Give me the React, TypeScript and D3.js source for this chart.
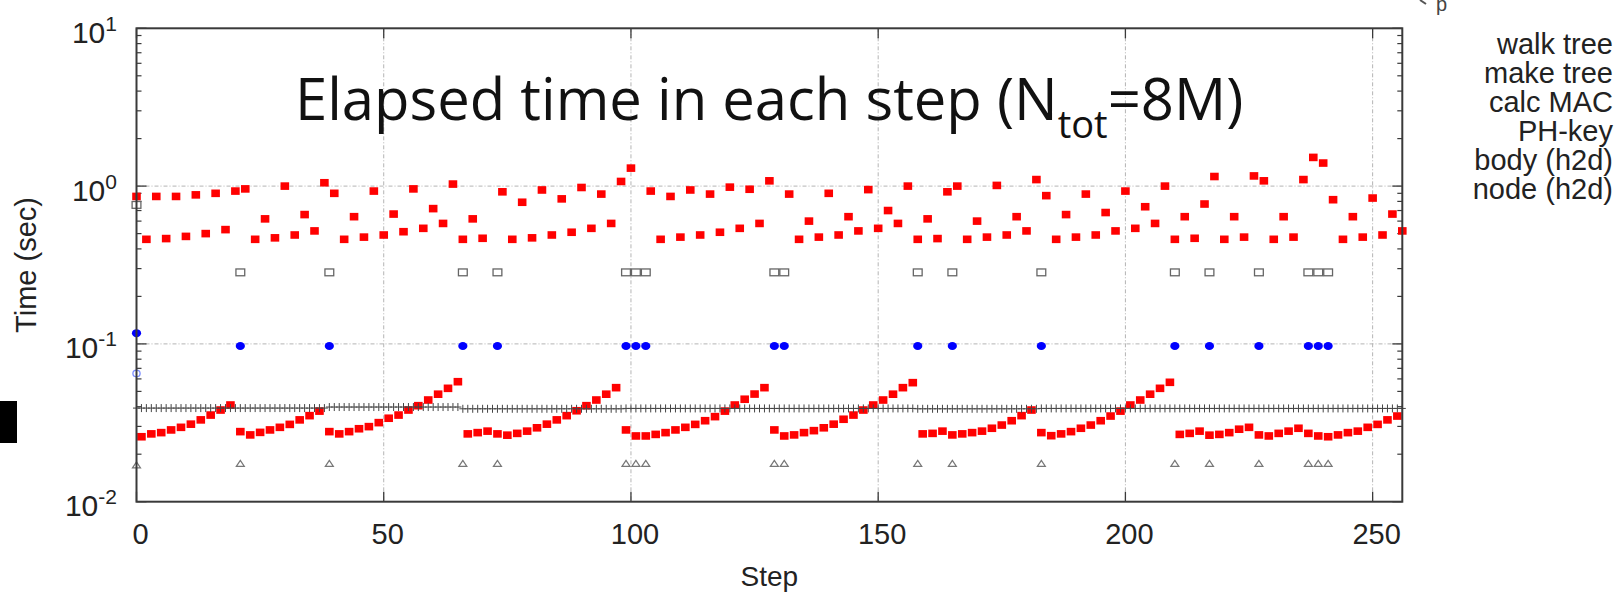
import React from 'react';
import * as d3 from 'd3';

const W = 1618;
const H = 592;

const xTicks = [0, 50, 100, 150, 200, 250];
const yTicks = [0.01, 0.1, 1, 10];
const yTickExp = ['-2', '-1', '0', '1'];
const legendLabels = ['walk tree', 'make tree', 'calc MAC', 'PH-key', 'body (h2d)', 'node (h2d)'];

// walk tree, even steps 0,2,...,256 (null = no point)
const walkTreeEven: (number | null)[] = [
  0.86, 0.46, 0.86, 0.465, 0.86, 0.48, 0.88, 0.5, 0.9, 0.53,
  0.93, 0.96, 0.46, 0.62, 0.47, 1.0, 0.49, 0.66, 0.52, 1.05,
  0.9, 0.46, 0.64, 0.475, 0.93, 0.49, 0.665, 0.514, 0.96, 0.54,
  0.72, 0.58, 1.03, 0.46, 0.62, 0.467, null, 0.92, 0.46, 0.79,
  0.47, 0.945, 0.49, 0.83, 0.51, 0.98, 0.54, 0.89, 0.58, 1.07,
  1.3, null, 0.93, 0.46, 0.86, 0.475, 0.945, 0.49, 0.89, 0.51,
  0.985, 0.54, 0.955, 0.58, 1.08, null, 0.89, 0.46, 0.6, 0.475,
  0.9, 0.49, 0.64, 0.52, 0.95, 0.54, 0.7, 0.58, 1.0, 0.46,
  0.62, 0.465, 0.92, 1.0, 0.46, 0.6, 0.475, 1.01, 0.49, 0.64,
  0.52, 1.1, 0.87, 0.46, 0.66, 0.475, 0.89, 0.49, 0.68, 0.52,
  0.93, 0.54, 0.74, 0.58, 1.0, 0.46, 0.64, 0.467, 0.77, 1.15,
  0.46, 0.64, 0.475, 1.16, 1.08, 0.46, 0.64, 0.475, 1.1, 1.52,
  1.4, 0.82, 0.46, 0.64, 0.475, 0.84, 0.49, 0.665, 0.52,
];

// walk tree, odd steps 1,3,...,255
const walkTreeOdd: number[] = [
  0.0258, 0.0269, 0.0274, 0.0285, 0.0296, 0.031, 0.033, 0.0354, 0.0381, 0.041,
  0.0278, 0.0265, 0.0275, 0.0285, 0.0296, 0.0309, 0.033, 0.0351, 0.0375, 0.0278,
  0.0269, 0.0278, 0.029, 0.0299, 0.0317, 0.0338, 0.0354, 0.0381, 0.0406, 0.0441,
  0.048, 0.0523, 0.0576, 0.0269, 0.0274, 0.028, 0.0269, 0.0264, 0.0271, 0.028,
  0.0294, 0.031, 0.033, 0.0351, 0.0377, 0.0406, 0.0441, 0.048, 0.0528, 0.0285,
  0.0261, 0.0261, 0.0267, 0.0274, 0.0285, 0.0296, 0.0309, 0.0326, 0.0346, 0.0375,
  0.041, 0.0446, 0.0481, 0.0528, 0.0285, 0.0261, 0.0265, 0.0274, 0.0282, 0.0294,
  0.031, 0.0333, 0.0354, 0.0381, 0.041, 0.0441, 0.048, 0.0528, 0.0568, 0.0269,
  0.0271, 0.028, 0.0265, 0.0269, 0.0274, 0.028, 0.0292, 0.0306, 0.0326, 0.0351,
  0.0381, 0.0274, 0.0262, 0.0269, 0.0278, 0.0292, 0.0306, 0.0326, 0.0349, 0.0375,
  0.041, 0.0441, 0.048, 0.0523, 0.0571, 0.0267, 0.0271, 0.028, 0.0264, 0.0267,
  0.0274, 0.0288, 0.0296, 0.0265, 0.0261, 0.0271, 0.028, 0.0292, 0.0271, 0.0261,
  0.0258, 0.0265, 0.0274, 0.028, 0.0296, 0.0309, 0.033, 0.0349,
];

// tree rebuild steps
const rebuildSteps = [0, 21, 39, 66, 73, 99, 101, 103, 129, 131, 158, 165, 183, 210, 217, 227, 237, 239, 241];
const makeTree = [0.76, 0.284, 0.284, 0.284, 0.284, 0.284, 0.284, 0.284, 0.284, 0.284, 0.284, 0.284, 0.284, 0.284, 0.284, 0.284, 0.284, 0.284, 0.284];
const calcMAC = [0.117, 0.097, 0.097, 0.097, 0.097, 0.097, 0.097, 0.097, 0.097, 0.097, 0.097, 0.097, 0.097, 0.097, 0.097, 0.097, 0.097, 0.097, 0.097];
const nodeH2d = [0.0171, 0.0175, 0.0175, 0.0175, 0.0175, 0.0175, 0.0175, 0.0175, 0.0175, 0.0175, 0.0175, 0.0175, 0.0175, 0.0175, 0.0175, 0.0175, 0.0175, 0.0175, 0.0175];

const phKeySteps = [0];
const phKey = [0.065];

// body (h2d), every step 0..256
const bodyH2d: number[] = [
  0.0392, 0.0392, 0.0392, 0.0392, 0.0392, 0.0392, 0.0392, 0.0392, 0.0392, 0.0392,
  0.0392, 0.0392, 0.0392, 0.0392, 0.0392, 0.0392, 0.0392, 0.0392, 0.0392, 0.0392,
  0.0392, 0.0392, 0.0392, 0.0392, 0.0392, 0.0392, 0.0392, 0.0392, 0.0392, 0.0392,
  0.0392, 0.0392, 0.0392, 0.0392, 0.0392, 0.0392, 0.0392, 0.0392, 0.0392, 0.0398,
  0.0398, 0.0398, 0.0398, 0.0398, 0.0398, 0.0398, 0.0398, 0.0398, 0.0398, 0.0398,
  0.0398, 0.0398, 0.0398, 0.0398, 0.0398, 0.0398, 0.0398, 0.0398, 0.0398, 0.0398,
  0.0398, 0.0398, 0.0398, 0.0398, 0.0398, 0.0398, 0.0388, 0.0388, 0.0388, 0.0388,
  0.0388, 0.0388, 0.0388, 0.0388, 0.0388, 0.0388, 0.0388, 0.0388, 0.0388, 0.0388,
  0.0388, 0.0388, 0.0388, 0.0388, 0.0388, 0.0388, 0.0388, 0.0388, 0.0388, 0.0388,
  0.0388, 0.0388, 0.0388, 0.0388, 0.0388, 0.0388, 0.0388, 0.0388, 0.0388, 0.039,
  0.039, 0.039, 0.039, 0.039, 0.039, 0.039, 0.039, 0.039, 0.039, 0.039,
  0.039, 0.039, 0.039, 0.039, 0.039, 0.039, 0.039, 0.039, 0.039, 0.039,
  0.039, 0.039, 0.039, 0.039, 0.039, 0.039, 0.039, 0.039, 0.039, 0.039,
  0.039, 0.039, 0.039, 0.039, 0.039, 0.039, 0.039, 0.039, 0.039, 0.039,
  0.039, 0.039, 0.039, 0.039, 0.039, 0.039, 0.039, 0.039, 0.039, 0.039,
  0.039, 0.039, 0.039, 0.039, 0.039, 0.039, 0.039, 0.039, 0.0388, 0.0388,
  0.0388, 0.0388, 0.0388, 0.0388, 0.0388, 0.0388, 0.0388, 0.0388, 0.0388, 0.0388,
  0.0388, 0.0388, 0.0388, 0.0388, 0.0388, 0.0388, 0.0388, 0.0388, 0.0388, 0.0388,
  0.0388, 0.0388, 0.0388, 0.039, 0.039, 0.039, 0.039, 0.039, 0.039, 0.039,
  0.039, 0.039, 0.039, 0.039, 0.039, 0.039, 0.039, 0.039, 0.039, 0.039,
  0.039, 0.039, 0.039, 0.039, 0.039, 0.039, 0.039, 0.039, 0.039, 0.039,
  0.039, 0.039, 0.039, 0.039, 0.039, 0.039, 0.039, 0.039, 0.039, 0.039,
  0.039, 0.039, 0.039, 0.039, 0.039, 0.039, 0.039, 0.039, 0.039, 0.039,
  0.039, 0.039, 0.039, 0.039, 0.039, 0.039, 0.039, 0.039, 0.039, 0.039,
  0.039, 0.039, 0.039, 0.039, 0.039, 0.039, 0.039, 0.039, 0.039, 0.039,
  0.039, 0.039, 0.039, 0.039, 0.039, 0.039, 0.039,
];

const GN_FONT = '"Liberation Sans", Arial, Helvetica, sans-serif';
const TITLE_FONT = '"Open Sans", "Noto Sans", sans-serif';

export default function App() {
  const left = 136.5, right = 1402.3, top = 28.3, bottom = 501.7;
  const x = d3.scaleLinear().domain([0, 256]).range([left, right]);
  const y = d3.scaleLog().domain([0.01, 10]).range([bottom, top]);

  const walkPts: { s: number; v: number }[] = [];
  walkTreeEven.forEach((v, i) => { if (v !== null) walkPts.push({ s: 2 * i, v }); });
  walkTreeOdd.forEach((v, i) => walkPts.push({ s: 2 * i + 1, v }));

  const minor: number[] = [];
  [-2, -1, 0].forEach((d) => { for (let k = 2; k <= 9; k++) minor.push(k * Math.pow(10, d)); });

  const gridColor = '#b4b4b4';
  const axisColor = '#3a3a3a';

  return (
    <svg width={W} height={H} style={{ position: 'absolute', left: 0, top: 0, background: '#fff' }}>
      <rect x={0} y={0} width={W} height={H} fill="#fff" />
      {/* grid */}
      {xTicks.filter((t) => t > 0).map((t) => (
        <line key={'gx' + t} x1={x(t)} x2={x(t)} y1={top} y2={bottom} stroke={gridColor} strokeWidth={1} strokeDasharray="4 2 1 2" />
      ))}
      {yTicks.filter((t) => t > 0.01 && t < 10).map((t) => (
        <line key={'gy' + t} x1={left} x2={right} y1={y(t)} y2={y(t)} stroke={gridColor} strokeWidth={1} strokeDasharray="4 2 1 2" />
      ))}
      {/* ticks */}
      {yTicks.map((t) => (
        <g key={'ty' + t}>
          <line x1={left} x2={left + 10} y1={y(t)} y2={y(t)} stroke={axisColor} strokeWidth={1.3} />
          <line x1={right} x2={right - 10} y1={y(t)} y2={y(t)} stroke={axisColor} strokeWidth={1.3} />
        </g>
      ))}
      {minor.map((t) => (
        <g key={'tm' + t}>
          <line x1={left} x2={left + 5} y1={y(t)} y2={y(t)} stroke={axisColor} strokeWidth={1.2} />
          <line x1={right} x2={right - 5} y1={y(t)} y2={y(t)} stroke={axisColor} strokeWidth={1.2} />
        </g>
      ))}
      {xTicks.map((t) => (
        <g key={'tx' + t}>
          <line x1={x(t)} x2={x(t)} y1={bottom} y2={bottom - 10} stroke={axisColor} strokeWidth={1.3} />
          <line x1={x(t)} x2={x(t)} y1={top} y2={top + 10} stroke={axisColor} strokeWidth={1.3} />
        </g>
      ))}
      {/* walk tree */}
      {walkPts.map((p) => (
        <rect key={'w' + p.s} x={x(p.s) - 4.3} y={y(p.v) - 3.8} width={8.6} height={7.6} fill="#ff0000" />
      ))}
      {/* make tree */}
      {rebuildSteps.map((s, i) => (
        <rect key={'m' + s} x={x(s) - 4.4} y={y(makeTree[i]) - 3.4} width={8.8} height={6.8} fill="none" stroke="#666" strokeWidth={1.3} />
      ))}
      {/* calc MAC */}
      {rebuildSteps.map((s, i) => (
        <ellipse key={'c' + s} cx={x(s)} cy={y(calcMAC[i])} rx={4.6} ry={4} fill="#0000ff" />
      ))}
      {/* PH-key */}
      {phKeySteps.map((s, i) => (
        <ellipse key={'p' + s} cx={x(s)} cy={y(phKey[i])} rx={3.6} ry={3.2} fill="none" stroke="#7a8cff" strokeWidth={1.3} />
      ))}
      {/* body (h2d) */}
      {bodyH2d.map((v, s) => (
        <g key={'b' + s} stroke="#444" strokeWidth={1}>
          <line x1={x(s) - 3.5} x2={x(s) + 3.5} y1={y(v)} y2={y(v)} />
          <line x1={x(s)} x2={x(s)} y1={y(v) - 4} y2={y(v) + 4} />
        </g>
      ))}
      {/* node (h2d) */}
      {rebuildSteps.map((s, i) => {
        const cx = x(s), cy = y(nodeH2d[i]);
        return <path key={'n' + s} d={`M${cx - 4},${cy + 3}L${cx},${cy - 3}L${cx + 4},${cy + 3}Z`} fill="none" stroke="#777" strokeWidth={1.2} />;
      })}
      {/* frame */}
      <rect x={left} y={top} width={right - left} height={bottom - top} fill="none" stroke={axisColor} strokeWidth={2} />
      {/* y tick labels */}
      {yTicks.map((t, i) => (
        <text key={'ly' + t} x={117} y={y(t) + 14.5} textAnchor="end" fontFamily={GN_FONT} fontSize={30} fill="#222">
          10<tspan fontSize={21} dy={-12}>{yTickExp[i]}</tspan>
        </text>
      ))}
      {/* x tick labels */}
      {xTicks.map((t) => (
        <text key={'lx' + t} x={x(t) + 4} y={543.5} textAnchor="middle" fontFamily={GN_FONT} fontSize={29} fill="#222">{t}</text>
      ))}
      {/* axis labels */}
      <text x={(left + right) / 2} y={586} textAnchor="middle" fontFamily={GN_FONT} fontSize={28} fill="#222">Step</text>
      <text transform={`translate(36,${(top + bottom) / 2}) rotate(-90)`} textAnchor="middle" fontFamily={GN_FONT} fontSize={29} fill="#222">Time (sec)</text>
      {/* legend text */}
      {legendLabels.map((l, i) => (
        <text key={'lg' + l} x={1613} y={53.5 + 29 * i} textAnchor="end" fontFamily={GN_FONT} fontSize={29} fill="#222">{l}</text>
      ))}
      {/* title */}
      <text x={295} y={120} fontFamily={TITLE_FONT} fontSize={58} fill="#111">
        Elapsed time in each step (N<tspan fontSize={38} dy={18}>tot</tspan><tspan dy={-18}>=8M)</tspan>
      </text>
      {/* slide fragments */}
      <rect x={0} y={401} width={17} height={42} fill="#000" />
      <line x1={1420} y1={0} x2={1426} y2={4} stroke="#555" strokeWidth={2} />
      <text x={1436} y={11} fontFamily={GN_FONT} fontSize={20} fill="#444">p</text>
    </svg>
  );
}
